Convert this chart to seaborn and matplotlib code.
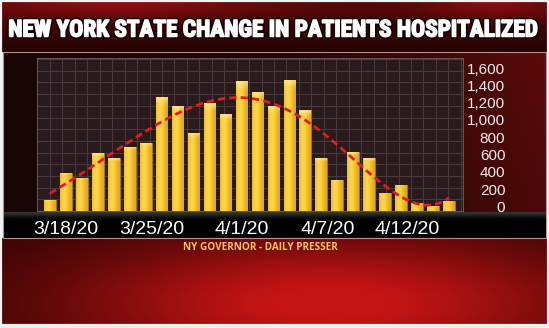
import os
import numpy as np
import pandas as pd
import matplotlib
matplotlib.use("Agg")
import matplotlib.pyplot as plt
import matplotlib.colors as mcolors
import matplotlib.patheffects as pe
from matplotlib import font_manager as fm
from matplotlib.patches import Rectangle
from matplotlib.ticker import MultipleLocator
from matplotlib.transforms import ScaledTranslation
import seaborn as sns

# ---------------- data ----------------
days = ["3/18/20", "3/19/20", "3/20/20", "3/21/20", "3/22/20", "3/23/20", "3/24/20",
        "3/25/20", "3/26/20", "3/27/20", "3/28/20", "3/29/20", "3/30/20", "3/31/20",
        "4/1/20", "4/2/20", "4/3/20", "4/4/20", "4/5/20", "4/6/20", "4/7/20",
        "4/8/20", "4/9/20", "4/10/20", "4/11/20", "4/12/20"]
change = [122, 443, 385, 667, 612, 744, 786, 1316, 1219, 902, 1243, 1119, 1497,
          1377, 1219, 1512, 1165, 607, 364, 684, 611, 209, 306, 97, 54, 120]
tick_labels = ["3/18/20", "3/25/20", "4/1/20", "4/7/20", "4/12/20"]
y_ticks = [0, 200, 400, 600, 800, 1000, 1200, 1400, 1600]
title = "NEW YORK STATE CHANGE IN PATIENTS HOSPITALIZED"
source = "NY GOVERNOR - DAILY PRESSER"

# layout (not data): where the broadcast graphic puts its date labels
tick_pos = [1.0, 6.4, 12.0, 17.4, 22.4]

df = pd.DataFrame({"day": days, "change": change})
df["idx"] = np.arange(len(df))

# ---------------- pick a heavy condensed face for the headline ----------------
prefs = ["notosans-condensedblack", "notosans-extracondensedblack",
         "robotocondensed-black", "notosans-condensedextrabold",
         "robotocondensed-extrabold", "robotocondensed-bold",
         "notosans-condensedbold", "liberationsansnarrow-bold",
         "dejavusanscondensed-bold", "opensans_condensed-bold",
         "opensanscondensed-bold", "opensans-condensedbold"]
files = {os.path.basename(f.fname).lower().rsplit(".", 1)[0]: f.fname
         for f in fm.fontManager.ttflist}
title_fp = None
for p in prefs:
    if p in files:
        title_fp = fm.FontProperties(fname=files[p])
        break
if title_fp is None:
    for key, path in files.items():
        if ("condensed" in key or "narrow" in key) and "bold" in key and "italic" not in key:
            title_fp = fm.FontProperties(fname=path)
            break
if title_fp is None:
    title_fp = fm.FontProperties(family="DejaVu Sans", weight="bold")

W, H = 549, 328
fig = plt.figure(figsize=(W / 100, H / 100), dpi=100)
fig.patch.set_facecolor("#eeeeee")

# ---------------- background painting ----------------
bg = fig.add_axes([0, 0, 1, 1])
bg.set_xlim(0, W)
bg.set_ylim(H, 0)
bg.axis("off")


def rgb(h):
    return np.array(mcolors.to_rgb(h))


def mix(c1, c2, w):
    w = np.clip(w, 0, 1)[..., None]
    return rgb(c1) * (1 - w) + rgb(c2) * w


def paint(x0, x1, y0, y1, fn, nx=240, ny=120, z=0):
    X, Y = np.meshgrid(np.linspace(0, 1, nx), np.linspace(0, 1, ny))
    img = np.clip(fn(X, Y), 0, 1)
    bg.imshow(img, extent=(x0, x1, y1, y0), aspect="auto",
              interpolation="bilinear", zorder=z)


# title band
paint(1.5, W - 1.5, 1.5, 52,
      lambda X, Y: mix("#1a0202", "#8a0d0d",
                       0.95 * np.exp(-(Y / 0.38) ** 2)
                       * (0.45 + 0.55 * np.exp(-((X - 0.22) / 0.25) ** 2)
                          + 0.5 * np.exp(-((X - 0.9) / 0.12) ** 2))
                       + 0.22 * np.exp(-((Y - 0.55) / 0.5) ** 2)))
# chart panel
paint(3, W - 3, 52, 213,
      lambda X, Y: mix("#180606", "#5e0a0a",
                       (X ** 2.6) * (0.75 + 0.25 * (1 - Y))))
# tick band
paint(3, W - 3, 212, 238,
      lambda X, Y: mix("#000000", "#3a3a3a", np.exp(-(Y / 0.18) ** 2) * 0.9))
# lower red area
paint(1.5, W - 1.5, 238, 325,
      lambda X, Y: mix("#2e0303", "#c41414",
                       np.exp(-(((X - 0.6) / 0.5) ** 2 + ((Y - 0.75) / 0.8) ** 2))
                       * 1.05))
bg.add_patch(Rectangle((3, 52), W - 6, 186, fill=False, ec="#b89090", lw=0.8, zorder=3))
bg.add_patch(Rectangle((0.8, 0.8), W - 1.6, H - 4, fill=False, ec="#f2f2f2", lw=1.6, zorder=4))

# ---------------- main plot ----------------
ax = fig.add_axes([37 / W, (H - 211) / H, 426 / W, 153 / H])
ax.set_facecolor("#291b1d")
ax.set_axisbelow(True)

sns.barplot(data=df, x="day", y="change", color="#F2C232", saturation=1,
            width=0.73, edgecolor="#a27812", linewidth=0.7, ax=ax, zorder=2)

# golden gradient on every bar
GX, GY = np.meshgrid(np.linspace(0, 1, 40), np.linspace(0, 1, 60))
shade = mix("#d99f18", "#ffd446", np.exp(-((GX - 0.35) / 0.45) ** 2))
top = np.exp(-((1 - GY) / 0.04) ** 2)[..., None]
shade = shade * (1 - top * 0.6) + rgb("#fff0a0") * top * 0.6
for p in list(ax.patches):
    x0, y0, w, h = p.get_x(), p.get_y(), p.get_width(), p.get_height()
    if h <= 0:
        continue
    im = ax.imshow(shade, extent=(x0, x0 + w, y0, y0 + h), origin="lower",
                   aspect="auto", interpolation="bilinear", zorder=2.1)
    im.set_clip_path(p)

# trend line (polynomial fit of the data)
sns.regplot(data=df, x="idx", y="change", order=5, scatter=False, ci=None,
            ax=ax, line_kws=dict(color="#e01d1d", lw=2.0, ls=(0, (2.6, 1.5)),
                                 zorder=3))

ax.set_xlim(-0.81, 25.88)
ax.set_ylim(0, 1768)
ax.set_aspect("auto")
ax.set_xlabel("")
ax.set_ylabel("")

# decorative grid
ax.xaxis.set_minor_locator(MultipleLocator(0.78))
ax.yaxis.set_minor_locator(MultipleLocator(135))
ax.grid(which="minor", color="#4f3a3e", lw=0.7)
ax.grid(which="major", visible=False)

for s in ax.spines.values():
    s.set_color("#6e5656")
    s.set_linewidth(0.7)

# x ticks
ax.set_xticks(tick_pos)
ax.set_xticklabels(tick_labels)
ax.tick_params(axis="x", which="both", length=0, pad=7.5, labelsize=14,
               labelcolor="white")
for lbl in ax.get_xticklabels():
    lbl.set_fontfamily(["Liberation Sans", "DejaVu Sans"])

# y ticks on the right
ax.yaxis.tick_right()
ax.set_yticks(y_ticks)
ax.set_yticklabels([f"{v:,}" for v in y_ticks])
ax.tick_params(axis="y", which="both", length=0, pad=30.5, labelsize=11,
               labelcolor="#f4ecec")
shift = ScaledTranslation(0, 4.5 / 100, fig.dpi_scale_trans)
for lbl in ax.get_yticklabels():
    lbl.set_ha("right")
    lbl.set_fontfamily(["Liberation Sans", "DejaVu Sans"])
    lbl.set_transform(lbl.get_transform() + shift)

# ---------------- texts ----------------
t = fig.text(0.5, (H - 30) / H, title, ha="center", va="center", color="white",
             fontproperties=title_fp,
             path_effects=[pe.Stroke(linewidth=3.2, foreground="#140000"),
                           pe.Stroke(linewidth=1.1, foreground="white"),
                           pe.Normal()])
t.set_fontsize(20)
fig.canvas.draw()
wpx = t.get_window_extent().width
t.set_fontsize(20 * 530 / wpx)

fig.text(260 / W, (H - 247) / H, source, ha="center", va="center",
         color="#f3c45e", fontsize=7.2, fontweight="bold",
         family=["Open Sans", "DejaVu Sans"])

fig.savefig("out.png", dpi=100, facecolor=fig.get_facecolor())
